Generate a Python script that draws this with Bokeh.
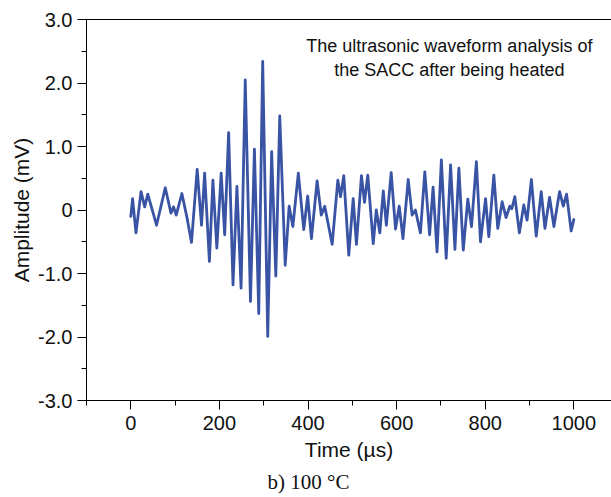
from bokeh.plotting import figure
from bokeh.models import (Range1d, LinearAxis, SingleIntervalTicker, FixedTicker, Label, Title)
from bokeh.embed import file_html
from bokeh.resources import INLINE

# Waveform (extrema), time in µs, amplitude in mV
time_us = [0, 4, 11.7, 23.1, 31.4, 38.3, 58.1, 77.8, 90.6, 96.5,
           102.5, 115.3, 127.1, 137, 149.8, 159.6, 166.6, 177.4, 185.3, 194.2,
           204, 211.9, 220.8, 230.7, 239.5, 248.9, 258.3, 270.1, 279, 288.8,
           297.7, 309.1, 317.9, 327.3, 336.2, 348.5, 357.4, 365.8, 378.1, 390.4,
           399.3, 407.7, 420.5, 429.9, 437.7, 454.5, 467.3, 473.3, 480.7, 492,
           501.9, 509.3, 520.6, 527.5, 534.9, 547.2, 554.1, 562, 569.9, 576.8,
           587.7, 597.5, 605.9, 614.3, 626.1, 635, 642.4, 653.7, 663.6, 674.4,
           682.3, 691.2, 701, 711.9, 721.8, 731.6, 740.5, 750.4, 760.7, 769.1,
           780, 789.3, 800.7, 808.1, 819.4, 828.3, 838.2, 847, 855.4, 860,
           866.8, 877.1, 887, 894.4, 904.2, 915.1, 926.4, 934.8, 945.2, 955,
           967.8, 976.2, 983.6, 994, 1000]
amplitude_mv = [-0.10, 0.18, -0.36, 0.29, 0.05, 0.25, -0.24, 0.35, -0.05, 0.05,
                -0.08, 0.26, -0.13, -0.51, 0.64, -0.24, 0.58, -0.81, 0.47, -0.60,
                0.58, -0.39, 1.22, -1.18, 0.37, -1.23, 2.05, -1.44, 0.96, -1.63,
                2.34, -1.99, 0.92, -1.04, 1.48, -0.87, 0.06, -0.26, 0.58, -0.31,
                0.22, -0.45, 0.46, -0.08, 0.06, -0.54, 0.47, 0.21, 0.54, -0.71,
                0.18, -0.54, 0.54, 0.12, 0.55, -0.53, 0.0, -0.36, 0.30, -0.24,
                0.59, -0.30, 0.06, -0.45, 0.48, -0.08, 0.0, -0.36, 0.60, -0.39,
                0.36, -0.66, 0.79, -0.76, 0.71, -0.62, 0.66, -0.63, 0.17, -0.26,
                0.76, -0.50, 0.18, -0.42, 0.55, -0.29, 0.13, -0.12, 0.06, 0.02,
                0.21, -0.36, 0.08, -0.16, 0.48, -0.41, 0.29, -0.29, 0.20, -0.26,
                0.29, 0.06, 0.25, -0.33, -0.15]

y_tick_values = [-3, -2, -1, 0, 1, 2, 3]
y_tick_labels = ["-3.0", "-2.0", "-1.0", "0", "1.0", "2.0", "3.0"]
annotation_lines = ["The ultrasonic waveform analysis of", "the SACC after being heated"]
caption = "b) 100 °C"

FONT = "Liberation Sans"

p = figure(width=611, height=497, output_backend="svg", toolbar_location=None,
           x_range=Range1d(-100, 1085), y_range=Range1d(-3, 3),
           min_border_left=86, min_border_right=0, min_border_top=19,
           min_border_bottom=96, x_axis_location="below", y_axis_location="left")
p.outline_line_color = None
p.xgrid.visible = False
p.ygrid.visible = False
p.background_fill_color = "white"
p.border_fill_color = "white"

p.line(time_us, amplitude_mv, line_color="#3953A5", line_width=2.8,
       line_join="round", line_cap="round")

# axes
xa = p.xaxis[0]
xa.ticker = SingleIntervalTicker(interval=200, num_minor_ticks=2)
xa.axis_label = "Time (µs)"
ya = p.yaxis[0]
ya.ticker = SingleIntervalTicker(interval=1, num_minor_ticks=2)
ya.axis_label = "Amplitude (mV)"
ya.major_label_overrides = {v: s for v, s in zip(y_tick_values, y_tick_labels)}

for ax in (xa, ya):
    ax.axis_line_color = "black"
    ax.axis_line_width = 1
    ax.major_tick_line_color = "black"
    ax.minor_tick_line_color = "black"
    ax.major_tick_in = 0
    ax.major_tick_out = 9
    ax.minor_tick_in = 0
    ax.minor_tick_out = 5
    ax.major_label_text_font = FONT
    ax.major_label_text_font_size = "20px"
    ax.major_label_text_color = "#111111"
    ax.axis_label_text_font = FONT
    ax.axis_label_text_font_size = "21px"
    ax.axis_label_text_font_style = "normal"
    ax.axis_label_text_color = "#111111"
xa.major_label_standoff = 6
xa.axis_label_standoff = 5
ya.major_label_standoff = 5
ya.axis_label_standoff = 2

top = LinearAxis(ticker=FixedTicker(ticks=[]), major_tick_line_color=None,
                 minor_tick_line_color=None, major_label_standoff=0,
                 axis_line_color="black")
p.add_layout(top, "above")

# annotation text
for i, line in enumerate(annotation_lines):
    p.add_layout(Label(x=719, y=2.58 - 0.38 * i, text=line, text_align="center",
                       text_baseline="middle", text_font=FONT,
                       text_font_size="18px", text_color="#111111"))

p.add_layout(Title(text=caption, align="left", offset=181, standoff=8,
                   text_font="Liberation Serif", text_font_size="21px",
                   text_font_style="normal", text_color="#111111"), "below")

open("out.html", "w").write(file_html(p, INLINE))
